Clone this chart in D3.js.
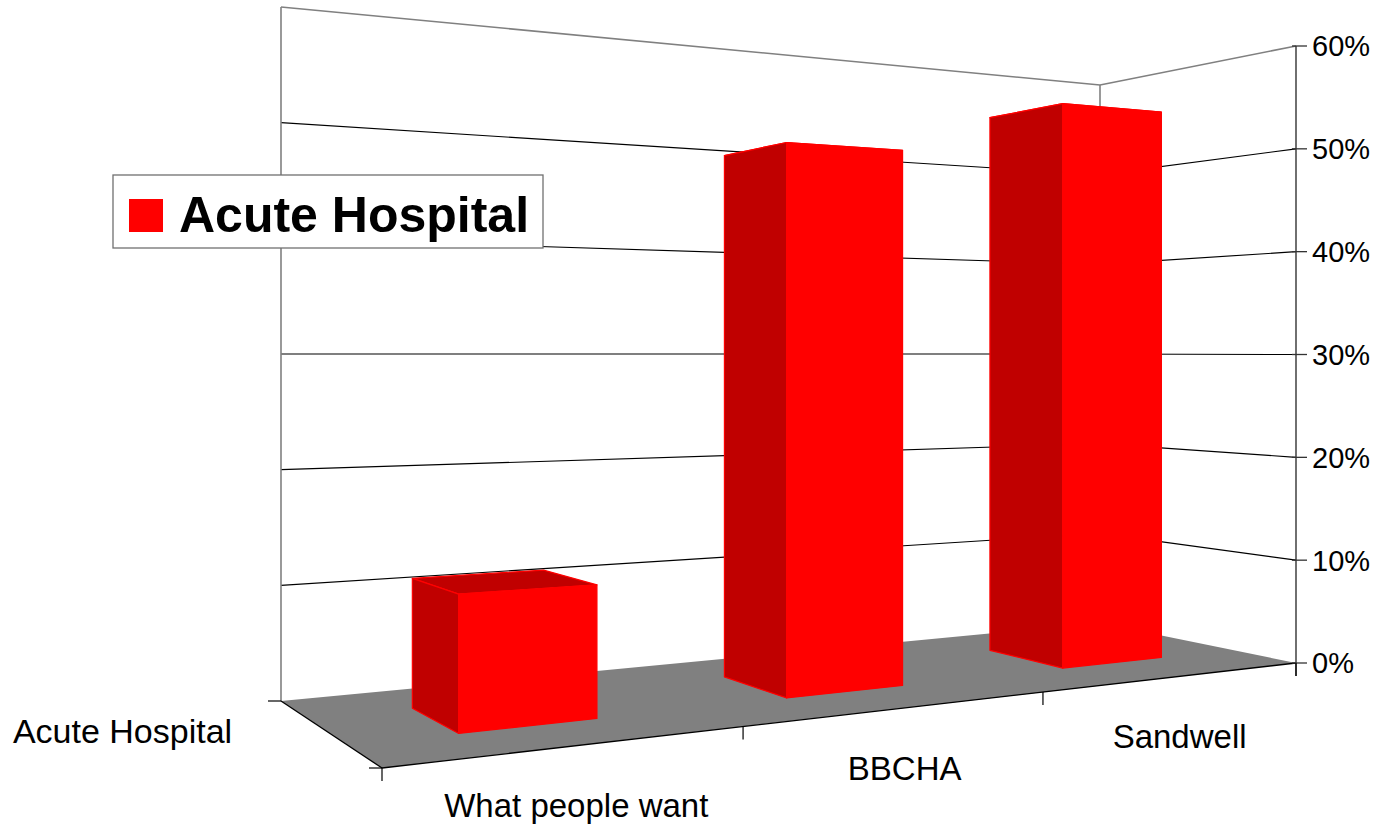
<!DOCTYPE html>
<html><head><meta charset="utf-8">
<script src="https://cdn.jsdelivr.net/npm/d3@7"></script>
<style>html,body{margin:0;padding:0;background:#fff;} svg{display:block;}</style>
</head><body>
<svg id="chart" width="1380" height="829"></svg>
<script>
// ---- data ----
const categories = ["What people want", "BBCHA", "Sandwell"];
const values = [0.11, 0.485, 0.54];
const seriesNames = ["Acute Hospital"];
const tickValues = [0, 0.1, 0.2, 0.3, 0.4, 0.5, 0.6];

// ---- layout of the 3D frame (screen positions of box corners) ----
const floorQuad = [[382, 768], [1296, 663], [1100, 623], [281, 701]]; // (X,Z): (0,0),(1,0),(1,1),(0,1)
const topY = {BL: 7, BR: 85, FR: 46};

const svg = d3.select("#chart");
const FONT = "'Liberation Sans', Arial, sans-serif";

// floor homography (unit square -> quad)
function makeHomography(q) {
  const [x0, y0] = q[0], [x1, y1] = q[1], [x2, y2] = q[2], [x3, y3] = q[3];
  const dx1 = x1 - x2, dx2 = x3 - x2, dx3 = x0 - x1 + x2 - x3;
  const dy1 = y1 - y2, dy2 = y3 - y2, dy3 = y0 - y1 + y2 - y3;
  const den = dx1 * dy2 - dx2 * dy1;
  const g = (dx3 * dy2 - dx2 * dy3) / den, h = (dx1 * dy3 - dx3 * dy1) / den;
  const a = x1 - x0 + g * x1, b = x3 - x0 + h * x3, c = x0;
  const d = y1 - y0 + g * y1, e = y3 - y0 + h * y3, f = y0;
  return (X, Z) => { const w = g * X + h * Z + 1; return [(a * X + b * Z + c) / w, (d * X + e * Z + f) / w]; };
}
const floorH = makeHomography(floorQuad);

// full-height (0..max) in pixels as K/(gp*X + hp*Z + 1)
const hBL = floorQuad[3][1] - topY.BL, hBR = floorQuad[2][1] - topY.BR, hFR = floorQuad[1][1] - topY.FR;
const r1 = hBL / hBR;
const hp1 = hFR / (hBL - hFR * (r1 - 1));
const hp = hp1 - 1, gp = (r1 - 1) * hp1, K = hBL * hp1;
const fullH = (X, Z) => K / (gp * X + hp * Z + 1);

// scales
const x = d3.scaleBand().domain(categories).range([0, 1]).paddingInner(0.6).paddingOuter(0.3);
const z = d3.scaleBand().domain(seriesNames).range([0, 1]).paddingInner(0).paddingOuter(0.75);
const y = d3.scaleLinear().domain([0, 0.6]).range([0, 1]);

function P(X, Z, v) {
  const [u, fv] = floorH(X, Z);
  return [u, fv - y(v) * fullH(X, Z)];
}
const poly = pts => "M" + pts.map(p => p[0].toFixed(2) + "," + p[1].toFixed(2)).join("L") + "Z";
const seg = (a, b) => "M" + a[0] + "," + a[1] + "L" + b[0] + "," + b[1];

const g = svg.append("g");

// walls (white)
g.append("path").attr("d", poly([P(0,1,0), P(1,1,0), P(1,1,0.6), P(0,1,0.6)])).attr("fill", "#fff");
g.append("path").attr("d", poly([P(1,1,0), P(1,0,0), P(1,0,0.6), P(1,1,0.6)])).attr("fill", "#fff");

// gridlines
const gridVals = tickValues.filter(t => t > 0 && t < 0.6);
g.selectAll(".gb").data(gridVals).join("path")
  .attr("d", t => seg(P(0,1,t), P(1,1,t))).attr("stroke", "#000").attr("stroke-width", 1.1).attr("fill", "none");
g.selectAll(".gr").data(gridVals).join("path")
  .attr("d", t => seg(P(1,1,t), P(1,0,t))).attr("stroke", "#000").attr("stroke-width", 1.1).attr("fill", "none");

// floor
g.append("path").attr("d", poly([P(0,0,0), P(1,0,0), P(1,1,0), P(0,1,0)])).attr("fill", "#808080");

// wall outlines (gray)
const wallStroke = {stroke: "#808080", w: 1.6};
[[P(0,1,0), P(0,1,0.6)], [P(0,1,0.6), P(1,1,0.6)], [P(1,1,0.6), P(1,0,0.6)], [P(1,1,0.6), P(1,1,0)]]
  .forEach(([a, b]) => g.append("path").attr("d", seg(a, b)).attr("stroke", wallStroke.stroke).attr("stroke-width", wallStroke.w).attr("fill", "none"));

// floor front & left edges (axes)
g.append("path").attr("d", seg(P(0,0,0), P(1,0,0))).attr("stroke", "#000").attr("stroke-width", 1.3);
g.append("path").attr("d", seg(P(0,0,0), P(0,1,0))).attr("stroke", "#000").attr("stroke-width", 1.3);

// bars
const bars = g.selectAll(".bar").data(categories.map((c, i) => ({c, v: values[i]}))).join("g");
bars.each(function(d) {
  const sel = d3.select(this);
  const X0 = x(d.c), X1 = x(d.c) + x.bandwidth();
  const Z0 = z(seriesNames[0]), Z1 = Z0 + z.bandwidth();
  const top = [P(X0,Z0,d.v), P(X1,Z0,d.v), P(X1,Z1,d.v), P(X0,Z1,d.v)];
  const left = [P(X0,Z0,0), P(X0,Z1,0), P(X0,Z1,d.v), P(X0,Z0,d.v)];
  const front = [P(X0,Z0,0), P(X1,Z0,0), P(X1,Z0,d.v), P(X0,Z0,d.v)];
  sel.append("path").attr("d", poly(top)).attr("fill", "#c00000").attr("stroke", "#ff0000").attr("stroke-width", 1.2).attr("stroke-linejoin", "round");
  sel.append("path").attr("d", poly(left)).attr("fill", "#c00000").attr("stroke", "#ff0000").attr("stroke-width", 1.2).attr("stroke-linejoin", "round");
  sel.append("path").attr("d", poly(front)).attr("fill", "#ff0000").attr("stroke", "#ff0000").attr("stroke-width", 1.2).attr("stroke-linejoin", "round");
});

// value axis (front-right vertical)
const axTop = P(1,0,0.6), axBot = P(1,0,0);
g.append("path").attr("d", seg(axTop, [axBot[0], axBot[1] + 13])).attr("stroke", "#333").attr("stroke-width", 1.4);
g.selectAll(".vt").data(tickValues).join("path")
  .attr("d", t => { const p = P(1,0,t); return seg([p[0]-4, p[1]], [p[0]+11, p[1]]); })
  .attr("stroke", "#333").attr("stroke-width", 1.3);
g.selectAll(".vl").data(tickValues).join("text")
  .attr("x", t => P(1,0,t)[0] + 16).attr("y", t => P(1,0,t)[1]).attr("dy", "0.36em")
  .attr("font-family", FONT).attr("font-size", 29).attr("fill", "#000")
  .text(t => d3.format(".0%")(t));

// category ticks
const catTicks = [0, ...categories.map(c => x(c) - x.step() * x.paddingInner() / 2).slice(1), 1];
g.selectAll(".ct").data(catTicks).join("path")
  .attr("d", t => { const p = P(t,0,0); return seg(p, [p[0], p[1] + 13]); })
  .attr("stroke", "#000").attr("stroke-width", 1.2);
// series axis ticks
g.selectAll(".st").data([0, 1]).join("path")
  .attr("d", t => { const p = P(0,t,0); return seg([p[0] - 13, p[1]], p); })
  .attr("stroke", "#000").attr("stroke-width", 1.2);

// category labels
g.selectAll(".cl").data(categories).join("text")
  .attr("x", c => P(x(c) + x.bandwidth() / 2, 0, 0)[0] + 5)
  .attr("y", c => P(x(c) + x.bandwidth() / 2, 0, 0)[1] + 71)
  .attr("text-anchor", "middle").attr("font-family", FONT).attr("font-size", 33).attr("fill", "#000")
  .text(c => c);

// series label
g.selectAll(".sl").data(seriesNames).join("text")
  .attr("x", s => P(0, z(s) + z.bandwidth() / 2, 0)[0] - 95)
  .attr("y", s => P(0, z(s) + z.bandwidth() / 2, 0)[1] + 11)
  .attr("text-anchor", "end").attr("font-family", FONT).attr("font-size", 34).attr("fill", "#000")
  .text(s => s);

// legend
const lg = svg.append("g").attr("transform", "translate(113,175)");
lg.append("rect").attr("x", 0).attr("y", 0).attr("width", 430).attr("height", 73)
  .attr("fill", "#fff").attr("stroke", "#707070").attr("stroke-width", 1.3);
lg.append("rect").attr("x", 16).attr("y", 24).attr("width", 34).attr("height", 33).attr("fill", "#ff0000");
lg.append("text").attr("x", 66).attr("y", 57).attr("font-family", FONT).attr("font-weight", "bold")
  .attr("font-size", 50).attr("fill", "#000").text(seriesNames[0]);
</script>
</body></html>
